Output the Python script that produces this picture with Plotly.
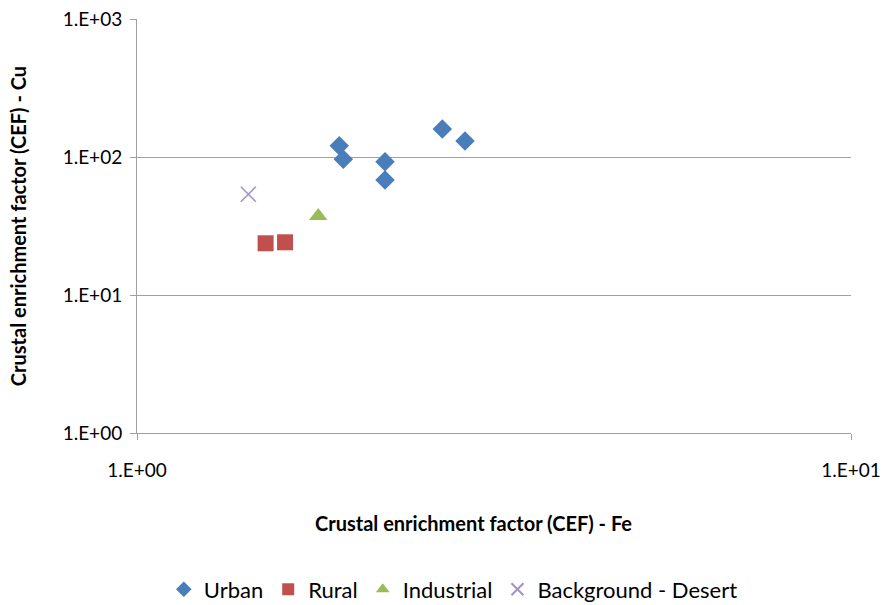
import plotly.graph_objects as go

urban_fe = [1.92, 1.945, 2.225, 2.225, 2.677, 2.88]
urban_cu = [120.7, 96.2, 92.5, 68.1, 159.6, 130.6]
rural_fe = [1.514, 1.612]
rural_cu = [23.7, 24.1]
ind_fe = [1.794]
ind_cu = [37.4]
bg_fe = [1.432]
bg_cu = [53.7]

x_ticks = [1, 10]
x_ticklabels = ["1.E+00", "1.E+01"]
y_ticks = [1, 10, 100, 1000]
y_ticklabels = ["1.E+00", "1.E+01", "1.E+02", "1.E+03"]

fig = go.Figure()
fig.add_trace(go.Scatter(x=urban_fe, y=urban_cu, mode="markers", name="Urban",
                         marker=dict(symbol="diamond", size=15, color="#4A7EBB")))
fig.add_trace(go.Scatter(x=rural_fe, y=rural_cu, mode="markers", name="Rural",
                         marker=dict(symbol="square", size=16, color="#C0504D")))
fig.add_trace(go.Scatter(x=ind_fe, y=ind_cu, mode="markers", name="Industrial",
                         marker=dict(symbol="triangle-up", size=16, color="#9BBB59")))
fig.add_trace(go.Scatter(x=bg_fe, y=bg_cu, mode="markers", name="Background - Desert",
                         marker=dict(symbol="x-thin", size=15, color="#A192C6",
                                     line=dict(width=1.5, color="#A192C6"))))

font_family = "Lato, Open Sans, sans-serif"
fig.update_layout(
    width=888, height=605,
    margin=dict(l=137, r=37, t=19, b=172, autoexpand=False),
    paper_bgcolor="white", plot_bgcolor="white",
    font=dict(family=font_family, size=19, color="black"),
    showlegend=True,
    legend=dict(orientation="h", x=0.443, xanchor="center", y=-0.378, yanchor="middle",
                font=dict(size=22), itemsizing="constant", itemwidth=30, tracegroupgap=0),
    xaxis=dict(type="log", range=[0, 1], tickvals=x_ticks, ticktext=x_ticklabels,
               showgrid=False, showline=True, linecolor="#A0A0A0", linewidth=1,
               ticks="outside", ticklen=6, tickcolor="#A0A0A0", zeroline=False,
               tickfont=dict(size=19), ticklabelstandoff=14),
    yaxis=dict(type="log", range=[0, 3], tickvals=y_ticks, ticktext=y_ticklabels,
               showgrid=True, gridcolor="#A0A0A0", gridwidth=1,
               showline=True, linecolor="#A0A0A0", linewidth=1,
               ticks="outside", ticklen=6, tickcolor="#A0A0A0", zeroline=False,
               tickfont=dict(size=19), ticklabelstandoff=4,
               title=dict(text="<b>Crustal enrichment factor (CEF) - Cu</b>",
                          font=dict(size=20), standoff=30)),
    annotations=[dict(text="<b>Crustal enrichment factor (CEF) - Fe</b>",
                      xref="paper", yref="paper", x=0.4706, y=-0.217,
                      xanchor="center", yanchor="middle", showarrow=False,
                      font=dict(size=20))],
)

fig.write_html("out.html")
